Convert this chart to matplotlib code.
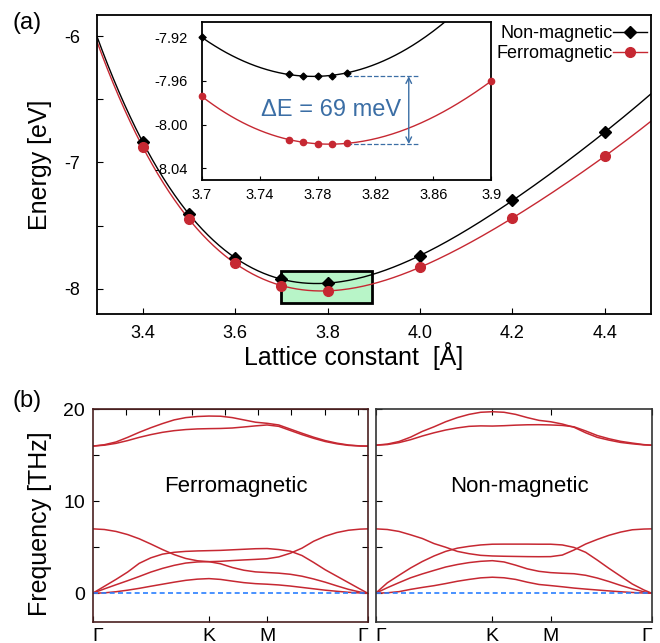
import numpy as np
import matplotlib.pyplot as plt
from matplotlib.patches import Rectangle

plt.rcParams['font.family'] = ['Liberation Sans', 'DejaVu Sans']
plt.rcParams['axes.unicode_minus'] = False

# (a) total energy vs lattice constant
lattice = [3.4, 3.5, 3.6, 3.7, 3.8, 4.0, 4.2, 4.4]
e_nonmag = [-6.84, -7.41, -7.76, -7.92, -7.955, -7.74, -7.30, -6.76]
e_ferro = [-6.88, -7.45, -7.80, -7.975, -8.017, -7.83, -7.44, -6.95]

# inset: fine scan around the minimum
lat_fine_nm = [3.70, 3.76, 3.77, 3.78, 3.79, 3.80]
e_fine_nm = [-7.920, -7.954, -7.9555, -7.9557, -7.9550, -7.9525]
lat_fine_fm = [3.70, 3.76, 3.77, 3.78, 3.79, 3.80, 3.90]
e_fine_fm = [-7.974, -8.0136, -8.016, -8.0175, -8.0177, -8.0172, -7.960]
delta_e_mev = 69

# (b) phonon dispersion along G-K-M-G
q = [0, 0.1, 0.2, 0.3, 0.4, 0.5, 0.6, 0.7, 0.8, 0.9, 1.0, 1.1, 1.2,
     1.3, 1.4, 1.5, 1.6, 1.7, 1.8, 1.9, 2.0, 2.1, 2.2, 2.3, 2.366]
q_ticks = [0, 1.0, 1.5, 2.366]
q_labels = ['Γ', 'K', 'M', 'Γ']

fm_bands = [
    [0, 0.04, 0.16, 0.33, 0.53, 0.76, 0.98, 1.2, 1.4, 1.53, 1.59, 1.5, 1.32,
     1.15, 1.04, 0.98, 0.9, 0.78, 0.63, 0.48, 0.33, 0.21, 0.1, 0.03, 0],
    [0, 0.47, 0.92, 1.36, 1.82, 2.3, 2.7, 3.03, 3.28, 3.4, 3.43, 3.2, 2.8,
     2.5, 2.32, 2.25, 2.18, 2.06, 1.85, 1.55, 1.2, 0.8, 0.42, 0.13, 0],
    [0, 0.75, 1.5, 2.3, 3.25, 3.85, 4.25, 4.45, 4.55, 4.6, 4.63, 4.66, 4.72,
     4.78, 4.84, 4.86, 4.75, 4.57, 4.1, 3.35, 2.55, 1.85, 1.15, 0.45, 0],
    [7.0, 6.93, 6.72, 6.38, 5.92, 5.35, 4.75, 4.2, 3.78, 3.53, 3.43, 3.47, 3.55,
     3.62, 3.68, 3.75, 3.95, 4.35, 4.9, 5.65, 6.2, 6.6, 6.85, 6.97, 7.0],
    [16.0, 16.15, 16.45, 16.95, 17.5, 18.0, 18.45, 18.85, 19.1, 19.22, 19.27, 19.25, 19.1,
     18.85, 18.6, 18.48, 18.3, 17.85, 17.4, 16.97, 16.6, 16.32, 16.12, 16.02, 16.0],
    [16.0, 16.1, 16.3, 16.6, 16.95, 17.25, 17.5, 17.68, 17.8, 17.87, 17.9, 17.92, 17.97,
     18.08, 18.2, 18.3, 18.15, 17.7, 17.25, 16.85, 16.5, 16.25, 16.08, 16.01, 16.0],
]
nm_bands = [
    [0, 0.05, 0.17, 0.42, 0.63, 0.82, 1.05, 1.3, 1.5, 1.67, 1.74, 1.68, 1.5,
     1.2, 0.95, 0.83, 0.7, 0.56, 0.45, 0.35, 0.25, 0.16, 0.08, 0.02, 0],
    [0, 0.6, 1.15, 1.68, 2.1, 2.48, 2.85, 3.12, 3.33, 3.47, 3.54, 3.4, 3.05,
     2.65, 2.38, 2.24, 2.17, 2.12, 1.95, 1.65, 1.27, 0.85, 0.47, 0.15, 0],
    [0, 1.13, 1.95, 2.75, 3.45, 4.05, 4.55, 4.9, 5.1, 5.25, 5.33, 5.34, 5.34,
     5.34, 5.33, 5.33, 5.25, 4.98, 4.45, 3.6, 2.7, 1.85, 1.0, 0.35, 0],
    [7.0, 6.93, 6.72, 6.35, 5.95, 5.4, 5.0, 4.55, 4.3, 4.12, 4.05, 4.02, 4.0,
     3.98, 3.97, 3.98, 4.15, 4.7, 5.35, 5.85, 6.3, 6.65, 6.9, 6.98, 7.0],
    [16.1, 16.22, 16.5, 16.98, 17.6, 18.1, 18.65, 19.1, 19.45, 19.68, 19.74, 19.68, 19.45,
     19.1, 18.8, 18.65, 18.4, 18.05, 17.45, 16.95, 16.65, 16.4, 16.25, 16.13, 16.1],
    [16.1, 16.17, 16.38, 16.7, 17.1, 17.45, 17.75, 17.98, 18.15, 18.2, 18.18, 18.22, 18.28,
     18.32, 18.33, 18.3, 18.25, 18.1, 17.65, 17.15, 16.8, 16.52, 16.33, 16.16, 16.1],
]

red = '#c62832'
blue = '#3b6ea5'

fig = plt.figure(figsize=(6.6, 6.43), dpi=100)

# ---- panel (a)
ax = fig.add_axes([0.1465, 0.5117, 0.8399, 0.4654])
xs = np.linspace(3.3, 4.5, 300)
ax.plot(xs, np.polyval(np.polyfit(lattice, e_nonmag, 4), xs), color='black', lw=1)
ax.plot(xs, np.polyval(np.polyfit(lattice, e_ferro, 4), xs), color=red, lw=1)
ax.plot(lattice, e_nonmag, 'D', color='black', ms=6.5, zorder=4)
ax.plot(lattice, e_ferro, 'o', color=red, ms=7, zorder=4)
ax.add_patch(Rectangle((3.7, -8.11), 0.195, 0.25, facecolor='#b8f5c8',
                       edgecolor='black', lw=2, zorder=1))
# legend entries (line + marker)
ax.plot([], [], '-D', color='black', ms=6, lw=1, label='Non-magnetic')
ax.plot([], [], '-o', color=red, ms=7, lw=1, label='Ferromagnetic')
ax.legend(loc='upper right', bbox_to_anchor=(1.0, 0.977), frameon=False,
          markerfirst=False, handlelength=1.9, handletextpad=0.0,
          labelspacing=0.15, fontsize=13, borderaxespad=0.0, borderpad=0.2)

ax.set_xlim(3.3, 4.5)
ax.set_ylim(-8.2, -5.83)
ax.set_xticks([3.4, 3.6, 3.8, 4.0, 4.2, 4.4])
ax.set_xticklabels(['3.4', '3.6', '3.8', '4.0', '4.2', '4.4'])
ax.set_yticks([-6, -6.5, -7, -7.5, -8])
ax.set_yticklabels(['-6', '', '-7', '', '-8'])
ax.tick_params(direction='in', labelsize=13, length=4)
ax.tick_params(axis='x', pad=8)
ax.tick_params(axis='y', pad=12)
for s in ax.spines.values():
    s.set_linewidth(1.3)
ax.set_ylabel('Energy [eV]', fontsize=18)
ax.yaxis.set_label_coords(-0.081, 0.5)
ax.set_xlabel('Lattice constant  [Å]', fontsize=18)
ax.xaxis.set_label_coords(0.464, -0.095)

# ---- inset
ins = fig.add_axes([0.3056, 0.7201, 0.4388, 0.2457])
xi = np.linspace(3.7, 3.9, 200)
ins.plot(xi, np.polyval(np.polyfit(lat_fine_nm, e_fine_nm, 2), xi), color='black', lw=1)
ins.plot(xi, np.polyval(np.polyfit(lat_fine_fm, e_fine_fm, 3), xi), color=red, lw=1)
ins.plot(lat_fine_nm, e_fine_nm, 'D', color='black', ms=3.5, clip_on=False, zorder=4)
ins.plot(lat_fine_fm, e_fine_fm, 'o', color=red, ms=4.5, clip_on=False, zorder=4)
nm_min = min(e_fine_nm)
fm_min = min(e_fine_fm)
ins.hlines([nm_min, fm_min], 3.80, 3.85, colors=blue, linestyles='--', lw=0.9)
ins.annotate('', xy=(3.843, fm_min), xytext=(3.843, nm_min),
             arrowprops=dict(arrowstyle='<->', color=blue, lw=1, shrinkA=0, shrinkB=0))
ins.text(3.789, (nm_min + fm_min) / 2, 'ΔE = %d meV' % delta_e_mev,
         color=blue, fontsize=17, ha='center', va='center')
ins.set_xlim(3.7, 3.9)
ins.set_ylim(-8.0506, -7.906)
ins.set_xticks([3.7, 3.74, 3.78, 3.82, 3.86, 3.9])
ins.set_xticklabels(['3.7', '3.74', '3.78', '3.82', '3.86', '3.9'])
ins.set_yticks([-7.92, -7.96, -8.00, -8.04])
ins.set_yticklabels(['-7.92', '-7.96', '-8.00', '-8.04'])
ins.tick_params(direction='in', labelsize=10.5, length=3)
ins.tick_params(axis='x', pad=6)
ins.tick_params(axis='y', pad=10)
for s in ins.spines.values():
    s.set_linewidth(1.3)

# ---- panel (b)
pos = [[0.1405, 0.0331, 0.4167, 0.3303], [0.5692, 0.0331, 0.4182, 0.3303]]
names = ['Ferromagnetic', 'Non-magnetic']
frames = ['#4a2020', '#333333']
for i, bands in enumerate([fm_bands, nm_bands]):
    bx = fig.add_axes(pos[i])
    for b in bands:
        bx.plot(q, b, color=red, lw=1.1)
    bx.axhline(0, color='#2a7fff', ls='--', lw=1.2, dashes=(3, 2))
    bx.set_xlim(0, q[-1])
    bx.set_ylim(-3.1, 20)
    bx.set_xticks(q_ticks)
    labs = bx.set_xticklabels(q_labels, fontsize=17)
    labs[0].set_ha('left')
    labs[-1].set_ha('right')
    bx.set_yticks([0, 5, 10, 15, 20])
    bx.tick_params(direction='in', length=4, labelsize=14)
    bx.tick_params(axis='x', pad=4.5)
    bx.tick_params(axis='y', pad=5.5)
    bx.text(1.23, 11.6, names[i], fontsize=16, ha='center', va='center')
    for s in bx.spines.values():
        s.set_linewidth(1.2)
        s.set_color(frames[i])
    if i == 0:
        bx.set_yticklabels(['0', '', '10', '', '20'])
        bx.tick_params(axis='y', right=True)
        top = bx.secondary_xaxis('top')
        top.set_xticks(np.arange(1, 9) * 0.285)
        top.tick_params(direction='in', length=4, labeltop=False)
        top.spines['top'].set_color(frames[i])
        bx.set_ylabel('Frequency [THz]', fontsize=18)
        bx.yaxis.set_label_coords(-0.149, 0.46)
    else:
        bx.set_yticklabels([])
        bx.tick_params(axis='x', top=True)

fig.text(12 / 660, 1 - 12 / 643, '(a)', fontsize=17, ha='left', va='top')
fig.text(12 / 660, 1 - 390 / 643, '(b)', fontsize=17, ha='left', va='top')

fig.savefig('out.png', dpi=100)
